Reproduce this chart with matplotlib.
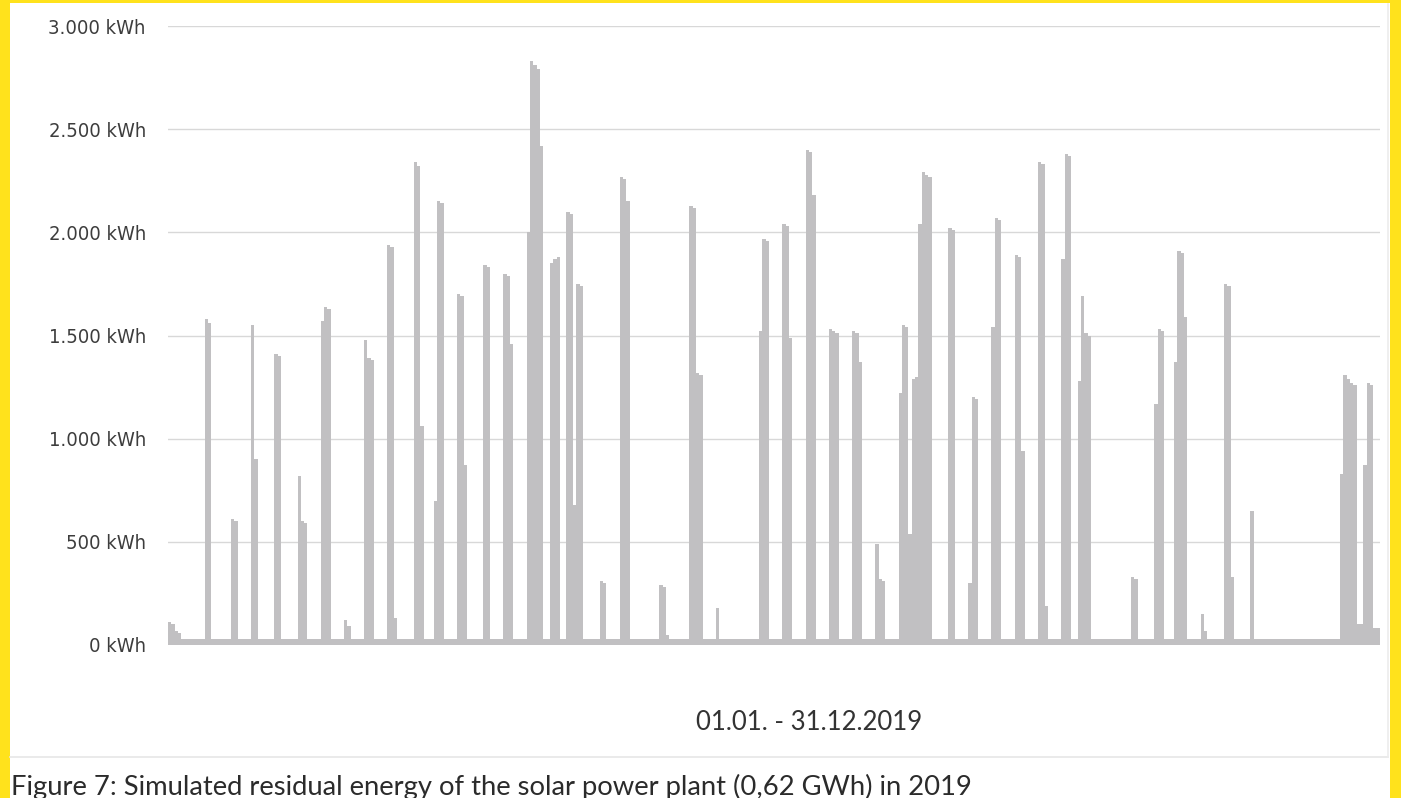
import numpy as np
import matplotlib
matplotlib.use('Agg')
import matplotlib.pyplot as plt
from matplotlib.patches import Rectangle
from matplotlib.lines import Line2D

# daily residual energy 2019 (kWh)
n_days = 365
baseline_kwh = 30
spike_start = [0, 11, 19, 25, 32, 39, 46, 53, 59, 66, 74, 80, 87, 95, 101, 108,
               115, 120, 122, 130, 136, 148, 157, 165, 178, 185, 192, 199, 206,
               213, 220, 235, 241, 248, 255, 262, 269, 274, 290, 297, 303, 311,
               318, 326, 353]
spike_kwh = [
    [110, 100, 70, 60],
    [1580, 1560],
    [610, 600],
    [1550, 900],
    [1410, 1400],
    [820, 600, 590],
    [1570, 1640, 1630],
    [120, 90],
    [1480, 1390, 1380],
    [1940, 1930, 130],
    [2340, 2320, 1060],
    [700, 2150, 2140],
    [1700, 1690, 870],
    [1840, 1830],
    [1800, 1790, 1460],
    [2000, 2830, 2810, 2790, 2420],
    [1850, 1870, 1880],
    [2100, 2090],
    [680, 1750, 1740],
    [310, 300],
    [2270, 2260, 2150],
    [290, 280, 50],
    [2130, 2120, 1320, 1310],
    [180],
    [1520, 1970, 1960],
    [2040, 2030, 1490],
    [2400, 2390, 2180],
    [1530, 1520, 1510],
    [1520, 1510, 1370],
    [490, 320, 310],
    [1220, 1550, 1540, 540, 1290, 1300, 2040, 2290, 2280, 2270],
    [2020, 2010],
    [300, 1200, 1190],
    [1540, 2070, 2060],
    [1890, 1880, 940],
    [2340, 2330, 190],
    [1870, 2380, 2370],
    [1280, 1690, 1510, 1500],
    [330, 320],
    [1170, 1530, 1520],
    [1370, 1910, 1900, 1590],
    [150, 70],
    [1750, 1740, 330],
    [650],
    [830, 1310, 1290, 1270, 1260, 100, 100, 870, 1270, 1260, 80, 80],
]
y_ticks = [0, 500, 1000, 1500, 2000, 2500, 3000]
x_label = '01.01. - 31.12.2019'
caption = 'Figure 7: Simulated residual energy of the solar power plant (0,62 GWh) in 2019'

days = np.arange(n_days)
energy = np.full(n_days, baseline_kwh, dtype=float)
for start, vals in zip(spike_start, spike_kwh):
    energy[start:start + len(vals)] = vals

yellow = '#ffe21c'
bar_color = '#c1c0c2'

W, H = 1401, 798
fig = plt.figure(figsize=(W / 100, H / 100), dpi=100)
fig.patch.set_facecolor(yellow)

# white card and caption strip (kept behind the axes)
fig.patches.append(Rectangle((10 / W, 0), (1390 - 10) / W, (H - 3) / H,
                             transform=fig.transFigure, facecolor='white',
                             edgecolor='none', zorder=-5))
fig.lines.append(Line2D([10 / W, 1388 / W], [1 - 757 / H, 1 - 757 / H],
                        transform=fig.transFigure, color='#e6e6e6', lw=1.2,
                        zorder=-4))
fig.lines.append(Line2D([1388 / W, 1388 / W], [1 - 757 / H, 1 - 4 / H],
                        transform=fig.transFigure, color='#ececec', lw=1.2,
                        zorder=-4))

ax = fig.add_axes([168 / W, 1 - 645 / H, (1380 - 168) / W, (645 - 26) / H])
ax.set_zorder(2)
ax.set_facecolor('none')
ax.bar(days, energy, width=1.0, color=bar_color, linewidth=0, zorder=2)
ax.set_xlim(-0.5, n_days - 0.5)
ax.set_ylim(0, 3000)

ax.set_yticks(y_ticks)
ax.set_yticklabels([f'{v:,.0f}'.replace(',', '.') + ' kWh' for v in y_ticks],
                   fontsize=14.5, color='#3d3d3d', fontstretch='condensed',
                   family=['DejaVu Sans'])
ax.tick_params(axis='y', length=0, pad=16)
ax.set_xticks([])
ax.yaxis.grid(True, color='#d8d8d8', lw=1.0)
ax.set_axisbelow(True)
for s in ax.spines.values():
    s.set_visible(False)

fig.text(809 / W, 1 - 722 / H, x_label, ha='center', va='center',
         fontsize=18.5, color='#333333', family=['Lato', 'DejaVu Sans'])
fig.text(11 / W, 1 - 795 / H, caption, ha='left', va='baseline',
         fontsize=19.7, color='#2b2b2b', family=['Lato', 'DejaVu Sans'])

fig.savefig('out.png', dpi=100, facecolor=yellow)
